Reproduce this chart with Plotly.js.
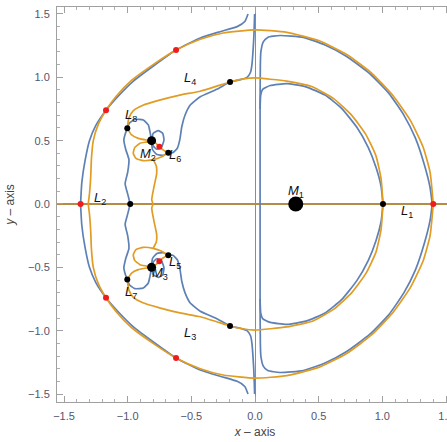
<!DOCTYPE html>
<html><head><meta charset="utf-8">
<script src="https://cdn.plot.ly/plotly-3.0.1.min.js"></script>
<style>html,body{margin:0;padding:0;overflow:hidden;background:#fff}#chart{width:460px;height:442px}</style>
</head><body><div id="chart"></div><script>
// ---- curve data (upper half, y >= 0; the lower half is the mirror image) ----
const orangeOuter = [[1.40,0],[1.375,0.25],[1.32,0.45],[1.22,0.66],[1.08,0.86],[0.92,1.03],[0.72,1.18],[0.50,1.29],[0.25,1.355],[0,1.375],[-0.25,1.35],[-0.43,1.30],[-0.62,1.215],[-0.80,1.10],[-0.97,0.975],[-1.09,0.85],[-1.17,0.74],[-1.23,0.63],[-1.27,0.50],[-1.285,0.35],[-1.29,0.22],[-1.30,0.08],[-1.31,0]];
const orangeInner = [[1.005,0],[0.99,0.2],[0.95,0.38],[0.87,0.55],[0.76,0.70],[0.62,0.83],[0.45,0.925],[0.25,0.97],[0,0.995],[-0.10,0.985],[-0.196,0.963],[-0.30,0.93],[-0.43,0.89],[-0.59,0.86],[-0.75,0.82],[-0.88,0.78],[-0.955,0.737],[-0.99,0.68],[-1.003,0.597]];
const orangeL8M2 = [[-1.003,0.597],[-0.969,0.545],[-0.917,0.518],[-0.851,0.505],[-0.812,0.50]];
const orangeM2L6 = [[-0.812,0.50],[-0.78,0.48],[-0.751,0.452],[-0.72,0.425],[-0.681,0.405]];
const orangeM2Loop = [[-0.812,0.50],[-0.85,0.49],[-0.903,0.479],[-0.945,0.445],[-0.956,0.40],[-0.935,0.36],[-0.877,0.342],[-0.80,0.35],[-0.733,0.373],[-0.681,0.405]];
const orangeVertical = [[-0.80,0.35],[-0.775,0.30],[-0.772,0.242],[-0.793,0.137],[-0.811,0.032],[-0.80,0]];
const blueOuterLeft = [[-0.055,1.50],[-0.08,1.44],[-0.14,1.40],[-0.275,1.36],[-0.43,1.31],[-0.62,1.215],[-0.79,1.095],[-0.955,0.97],[-1.08,0.845],[-1.17,0.74],[-1.25,0.62],[-1.30,0.50],[-1.335,0.34],[-1.36,0.17],[-1.37,0]];
const blueOuterD = [[0.04,0],[0.04,0.4],[0.04,0.8],[0.042,1.1],[0.046,1.2],[0.065,1.28],[0.10,1.315],[0.196,1.33],[0.38,1.315],[0.55,1.255],[0.72,1.165],[0.90,1.03],[1.05,0.875],[1.17,0.70],[1.26,0.52],[1.33,0.31],[1.375,0.13],[1.392,0]];
const blueInnerD = [[0.04,0.75],[0.045,0.86],[0.06,0.905],[0.12,0.935],[0.25,0.95],[0.40,0.925],[0.55,0.86],[0.68,0.755],[0.80,0.605],[0.89,0.445],[0.95,0.29],[0.99,0.14],[1.005,0]];
const blueAxisL4L6 = [[-0.003,1.50],[-0.006,1.40],[-0.01,1.30],[-0.016,1.20],[-0.024,1.10],[-0.035,1.04],[-0.063,1.0],[-0.12,0.98],[-0.196,0.963],[-0.30,0.905],[-0.43,0.847],[-0.51,0.78],[-0.55,0.70],[-0.575,0.61],[-0.59,0.51],[-0.61,0.44],[-0.645,0.405],[-0.681,0.405],[-0.72,0.385],[-0.77,0.39],[-0.805,0.43],[-0.812,0.50]];
const blueWavy = [[-1.003,0.597],[-1.02,0.55],[-1.03,0.505],[-1.015,0.43],[-0.99,0.35],[-1.0,0.25],[-1.02,0.16],[-1.0,0.08],[-0.98,0]];
const blueLoopTop = [[-1.003,0.597],[-0.987,0.637],[-0.943,0.668],[-0.877,0.663],[-0.838,0.624],[-0.825,0.571],[-0.812,0.50]];
const blueLoopSmall = [[-0.812,0.50],[-0.799,0.558],[-0.760,0.579],[-0.725,0.558],[-0.715,0.505],[-0.733,0.452],[-0.772,0.432],[-0.80,0.46],[-0.812,0.50]];

// ---- points ----
const blackX = [1.005,-0.98,-0.196,-0.196,-0.681,-0.681,-1.003,-1.003];
const blackY = [0,0,0.963,-0.963,0.405,-0.405,0.597,-0.597];
const primX = [-0.812,-0.812];
const primY = [0.50,-0.50];
const m1X = [0.32];
const m1Y = [0];
const redX = [1.40,-1.37,-0.62,-0.62,-1.17,-1.17,-0.751,-0.751];
const redY = [0,0,1.215,-1.215,0.74,-0.74,0.452,-0.452];

// ---- labels ----
const labelText = ['L','L','L','L','L','L','L','L','M','M','M'];
const labelSub = ['1','2','3','4','5','6','7','8','1','2','3'];
const labelX = [1.19,-1.22,-0.51,-0.51,-0.63,-0.63,-0.97,-0.97,0.32,-0.84,-0.75];
const labelY = [-0.06,0.04,-1.02,0.99,-0.46,0.38,-0.70,0.70,0.10,0.39,-0.55];

const BLUE = '#5e81b5', ORANGE = '#e19c24';
const traces = [];
function addCurve(pts, color){
  const x = pts.map(p=>p[0]);
  traces.push({x:x, y:pts.map(p=>p[1]), mode:'lines', line:{color:color,width:1.7,shape:'spline',smoothing:0.5}, hoverinfo:'skip', showlegend:false});
  traces.push({x:x, y:pts.map(p=>-p[1]), mode:'lines', line:{color:color,width:1.7,shape:'spline',smoothing:0.5}, hoverinfo:'skip', showlegend:false});
}
[blueOuterLeft, blueOuterD, blueInnerD, blueAxisL4L6, blueWavy, blueLoopTop, blueLoopSmall].forEach(c=>addCurve(c, BLUE));
[orangeOuter, orangeInner, orangeL8M2, orangeM2L6, orangeM2Loop, orangeVertical].forEach(c=>addCurve(c, ORANGE));

traces.push({x:redX, y:redY, mode:'markers', marker:{color:'#ee1c1c', size:6}, showlegend:false});
traces.push({x:blackX, y:blackY, mode:'markers', marker:{color:'#000', size:6}, showlegend:false});
traces.push({x:primX, y:primY, mode:'markers', marker:{color:'#000', size:9}, showlegend:false});
traces.push({x:m1X, y:m1Y, mode:'markers', marker:{color:'#000', size:15}, showlegend:false});

const annotations = labelText.map((t,i)=>({x:labelX[i], y:labelY[i], xref:'x', yref:'y', showarrow:false,
  text:'<i>'+t+'</i><sub>'+labelSub[i]+'</sub>', font:{family:'Liberation Sans, Arial, sans-serif', size:13, color:'#111'}}));

const axisCommon = {
  showgrid:false, showline:true, mirror:'ticks', linecolor:'#a0a0a0', linewidth:1,
  ticks:'inside', ticklen:6, tickcolor:'#a0a0a0', tickwidth:1,
  tickvals:[-1.5,-1,-0.5,0,0.5,1,1.5], tickformat:'.1f',
  minor:{ticks:'inside', ticklen:3, tickcolor:'#b0b0b0', dtick:0.1, tick0:0, showgrid:false},
  tickfont:{family:'Liberation Sans, Arial, sans-serif', size:11, color:'#55556e'},
  automargin:false, fixedrange:true, ticklabelstandoff:4
};
const layout = {
  width:460, height:442, margin:{l:57, r:7, t:7, b:40},
  paper_bgcolor:'#fff', plot_bgcolor:'#fff', showlegend:false,
  xaxis:Object.assign({}, axisCommon, {range:[-1.555,1.555], zeroline:true, zerolinecolor:'#8c8c8c', zerolinewidth:1,
    title:{text:'<i>x</i> – axis', standoff:6, font:{family:'Liberation Sans, Arial, sans-serif', size:12, color:'#444'}}}),
  yaxis:Object.assign({}, axisCommon, {range:[-1.563,1.555], zeroline:true, zerolinecolor:'#b48c46', zerolinewidth:1.8,
    title:{text:'<i>y</i> – axis', standoff:10, font:{family:'Liberation Sans, Arial, sans-serif', size:12, color:'#444'}}}),
  annotations:annotations
};
Plotly.newPlot('chart', traces, layout, {displayModeBar:false, staticPlot:true});
</script></body></html>
